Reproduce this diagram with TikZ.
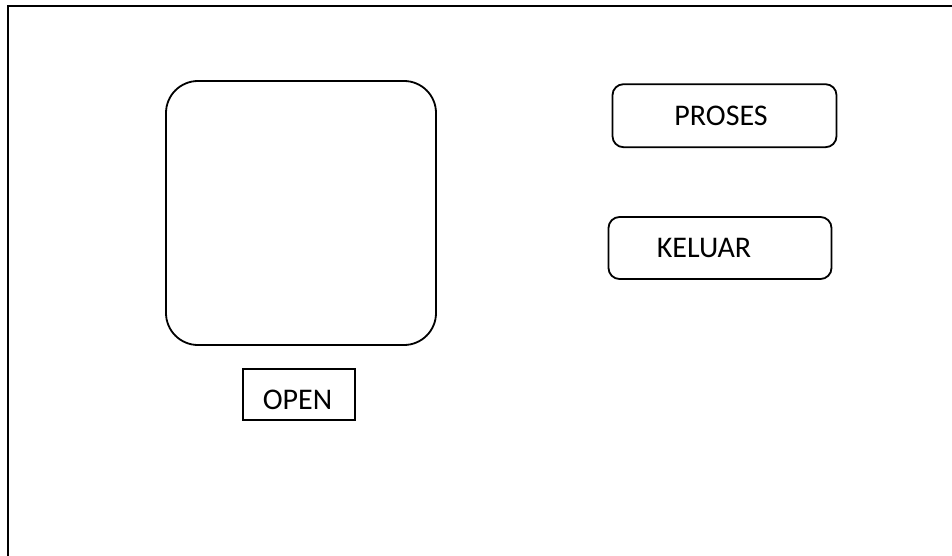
\documentclass[tikz,border=0pt]{standalone}
\usepackage{fontspec}
\setmainfont{Carlito}
\begin{document}
\begin{tikzpicture}[x=1pt,y=-1pt,
  box/.style={draw=black,line width=1.8pt,inner sep=0pt},
  btn/.style={box,rounded corners=11pt},
  lbl/.style={font=\fontsize{30}{36}\selectfont,inner sep=0pt,anchor=center}]
  \useasboundingbox (0,0) rectangle (952,556);
  % window frame (top and left edges)
  \coordinate (frameL) at (8,556);
  \coordinate (frameTL) at (8,6);
  \coordinate (frameR) at (952,6);
  \draw[line width=2.2pt] (frameL) -- (frameTL) -- (frameR);
  % image area
  \node[box,rounded corners=32pt,minimum width=270pt,minimum height=264pt] (view) at (301,213) {};
  % buttons
  \node[btn,minimum width=224pt,minimum height=63pt] (proses) at (724.5,115.7) {};
  \node[lbl] (prosesT) at (721,116) {PROSES};
  \node[btn,minimum width=223pt,minimum height=62pt] (keluar) at (720,248) {};
  \node[lbl] (keluarT) at (704,248) {KELUAR};
  \node[box,minimum width=112pt,minimum height=51pt] (open) at (299,394.7) {};
  \node[lbl] (openT) at (297.5,400) {OPEN};
\end{tikzpicture}
\end{document}
